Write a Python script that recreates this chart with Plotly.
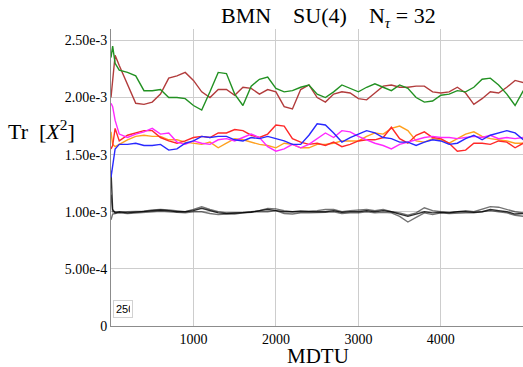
import plotly.graph_objects as go

# MDTU sample grid
MDTU = [0, 20, 50] + list(range(100, 5001, 100))

# Tr[X^2] values in units of 1e-3
GREEN = [2.35, 2.45, 2.30, 2.24, 2.22, 2.19, 2.06, 2.06, 2.07, 2.00, 2.00, 1.99, 1.93, 1.89,
         2.05, 2.22, 2.21, 2.03, 1.93, 2.10, 2.16, 2.18, 2.08, 2.05, 2.06, 2.09, 2.11,
         2.03, 2.00, 2.05, 2.11, 2.08, 2.05, 2.09, 2.12, 2.09, 2.06, 2.11, 2.08, 2.00, 1.96,
         1.97, 2.02, 2.03, 2.06, 2.05, 2.09, 2.16, 2.17, 2.11, 2.03, 1.93, 2.06]
BROWN = [2.00, 2.15, 2.37, 2.28, 2.12, 1.95, 1.94, 1.96, 2.03, 2.17, 2.19, 2.22, 2.15, 2.05,
         2.00, 2.07, 2.07, 2.02, 2.09, 2.08, 2.03, 2.07, 2.05, 1.92, 1.90, 2.07, 2.11,
         2.00, 1.96, 2.03, 2.05, 2.04, 1.99, 1.98, 2.04, 2.10, 2.11, 2.09, 2.09, 2.10, 2.10,
         2.05, 2.04, 2.05, 2.09, 2.04, 1.94, 1.99, 2.05, 2.04, 2.09, 2.15, 2.13]
BLUE = [1.30, 1.42, 1.55, 1.59, 1.59, 1.60, 1.58, 1.58, 1.59, 1.54, 1.55, 1.60, 1.62, 1.66,
        1.65, 1.66, 1.66, 1.63, 1.62, 1.65, 1.64, 1.66, 1.64, 1.62, 1.59, 1.59, 1.67,
        1.77, 1.76, 1.69, 1.61, 1.65, 1.68, 1.71, 1.69, 1.65, 1.64, 1.61, 1.61, 1.58, 1.61,
        1.63, 1.62, 1.59, 1.60, 1.64, 1.67, 1.63, 1.67, 1.69, 1.71, 1.69, 1.63]
MAGENTA = [1.95, 1.92, 1.80, 1.68, 1.65, 1.68, 1.70, 1.73, 1.68, 1.69, 1.61, 1.59, 1.62, 1.60,
           1.59, 1.63, 1.64, 1.62, 1.65, 1.68, 1.65, 1.57, 1.53, 1.55, 1.59, 1.56, 1.59,
           1.64, 1.69, 1.65, 1.71, 1.70, 1.66, 1.63, 1.60, 1.58, 1.55, 1.59, 1.61, 1.63, 1.65,
           1.66, 1.65, 1.65, 1.64, 1.65, 1.66, 1.65, 1.67, 1.64, 1.65, 1.64, 1.65]
RED = [1.55, 1.58, 1.73, 1.62, 1.67, 1.69, 1.71, 1.71, 1.65, 1.62, 1.60, 1.62, 1.65, 1.66,
       1.65, 1.69, 1.69, 1.72, 1.71, 1.67, 1.65, 1.68, 1.76, 1.75, 1.64, 1.61, 1.59,
       1.60, 1.58, 1.61, 1.57, 1.59, 1.62, 1.63, 1.63, 1.65, 1.74, 1.64, 1.60, 1.67, 1.70,
       1.65, 1.64, 1.60, 1.53, 1.54, 1.60, 1.60, 1.59, 1.62, 1.61, 1.56, 1.60]
ORANGE = [1.70, 1.59, 1.57, 1.59, 1.63, 1.66, 1.67, 1.66, 1.66, 1.63, 1.63, 1.61, 1.60, 1.59,
          1.61, 1.56, 1.60, 1.64, 1.63, 1.61, 1.59, 1.58, 1.56, 1.60, 1.59, 1.56, 1.56,
          1.59, 1.59, 1.60, 1.62, 1.62, 1.62, 1.66, 1.69, 1.68, 1.73, 1.75, 1.71, 1.62, 1.61,
          1.64, 1.63, 1.60, 1.64, 1.68, 1.70, 1.66, 1.64, 1.63, 1.62, 1.60, 1.60]
BLACK1 = [1.36, 1.02, 0.99, 1.00, 0.99, 0.995, 1.00, 1.01, 1.015, 1.01, 1.00, 1.00, 1.01, 1.03,
          1.01, 0.99, 0.985, 0.99, 0.99, 0.995, 1.01, 1.02, 1.01, 1.00, 1.00, 1.00, 0.995,
          1.00, 1.00, 1.01, 0.995, 1.00, 1.00, 1.01, 1.00, 1.01, 1.00, 0.98, 0.96, 0.98, 1.00,
          0.99, 0.995, 0.99, 1.00, 1.00, 0.995, 1.00, 1.02, 1.01, 1.00, 0.98, 0.985]
BLACK2 = [1.15, 1.00, 1.00, 0.995, 1.00, 1.00, 1.005, 1.015, 1.02, 1.015, 1.005, 1.00, 1.02, 1.045,
          1.02, 1.00, 0.99, 0.99, 0.995, 1.00, 1.01, 1.03, 1.025, 1.01, 1.00, 1.01, 1.005,
          1.01, 1.02, 1.02, 1.00, 1.01, 1.015, 1.02, 1.01, 1.02, 1.00, 0.99, 0.97, 0.99, 1.035,
          1.01, 1.00, 0.995, 1.00, 1.01, 1.00, 1.02, 1.045, 1.04, 1.02, 1.00, 0.99]
BLACK3 = [0.93, 0.98, 0.985, 0.99, 0.985, 0.99, 0.995, 1.00, 1.005, 1.00, 0.995, 0.99, 1.00, 1.00,
          0.985, 0.975, 0.98, 0.98, 0.99, 1.00, 1.00, 1.00, 1.01, 0.985, 0.98, 0.99, 0.99,
          0.99, 0.995, 1.00, 0.985, 0.99, 0.99, 1.00, 0.99, 0.995, 0.99, 0.96, 0.91, 0.95, 0.99,
          0.975, 0.99, 0.985, 0.99, 0.99, 0.99, 1.00, 1.01, 1.00, 0.99, 0.97, 0.96]

SCALE = 1e-3
Y_TICKS = [0, 0.5e-3, 1.0e-3, 1.5e-3, 2.0e-3, 2.5e-3]
Y_TICKTEXT = ["0", "5.00e-4", "1.00e-3", "1.50e-3", "2.00e-3", "2.50e-3"]
X_TICKS = [1000, 2000, 3000, 4000]

series = [
    (BLACK3, "rgba(0,0,0,0.55)"),
    (BLACK2, "rgba(0,0,0,0.55)"),
    (BLACK1, "rgba(0,0,0,0.8)"),
    (ORANGE, "rgb(255,160,30)"),
    (RED, "rgb(255,40,40)"),
    (MAGENTA, "rgb(255,40,255)"),
    (BLUE, "rgb(40,40,255)"),
    (BROWN, "rgb(178,60,60)"),
    (GREEN, "rgb(34,145,34)"),
]

fig = go.Figure()
for vals, col in series:
    fig.add_trace(go.Scatter(x=MDTU, y=[v * SCALE for v in vals], mode="lines",
                             line=dict(color=col, width=1.4), showlegend=False,
                             hoverinfo="skip"))

serif = "Liberation Serif, Times New Roman, serif"
W, H = 523, 367
L, R, T, B = 111, 0, 29, 41
PW, PH = W - L - R, H - T - B


def px(xp):
    return (xp - L) / PW


def py(yp):
    return (H - B - yp) / PH


fig.update_layout(
    width=W, height=H,
    margin=dict(l=L, r=R, t=T, b=B, pad=0),
    paper_bgcolor="white", plot_bgcolor="white",
    font=dict(family=serif, color="black", size=14),
    xaxis=dict(range=[0, 4996], tickvals=X_TICKS, showgrid=True,
               gridcolor="rgb(205,205,205)", gridwidth=1, zeroline=False,
               showline=True, linecolor="rgb(140,140,140)", linewidth=1,
               ticks="", tickfont=dict(family=serif, size=14)),
    yaxis=dict(range=[0, 2.6e-3], tickvals=Y_TICKS, ticktext=Y_TICKTEXT, showgrid=True,
               gridcolor="rgb(205,205,205)", gridwidth=1, zeroline=False,
               showline=True, linecolor="rgb(140,140,140)", linewidth=1,
               ticks="", tickfont=dict(family=serif, size=14)),
    annotations=[
        dict(text="BMN\u00a0\u00a0\u00a0\u00a0SU(4)\u00a0\u00a0\u00a0\u00a0N<sub><i>τ</i></sub> = 32",
             xref="paper", yref="paper", x=px(328), y=py(17),
             xanchor="center", yanchor="middle", showarrow=False,
             font=dict(family=serif, size=22, color="black")),
        dict(text="Tr\u00a0\u00a0[<i>X</i><sup>2</sup>]",
             xref="paper", yref="paper", x=px(41), y=py(130),
             xanchor="center", yanchor="middle", showarrow=False,
             font=dict(family=serif, size=22, color="black")),
        dict(text="MDTU",
             xref="paper", yref="paper", x=px(318), y=py(356),
             xanchor="center", yanchor="middle", showarrow=False,
             font=dict(family=serif, size=21, color="black")),
        dict(text="250", width=14, align="left",
             xref="paper", yref="paper", x=px(113), y=py(318),
             xanchor="left", yanchor="bottom", showarrow=False,
             bgcolor="white", bordercolor="rgb(210,210,210)", borderwidth=1, borderpad=2,
             font=dict(family="Liberation Sans, Arial, sans-serif", size=11, color="black")),
    ],
)

fig.write_html("out.html",
               config={"displayModeBar": False},
               post_script="document.body.style.margin='0';document.body.style.padding='0';")
